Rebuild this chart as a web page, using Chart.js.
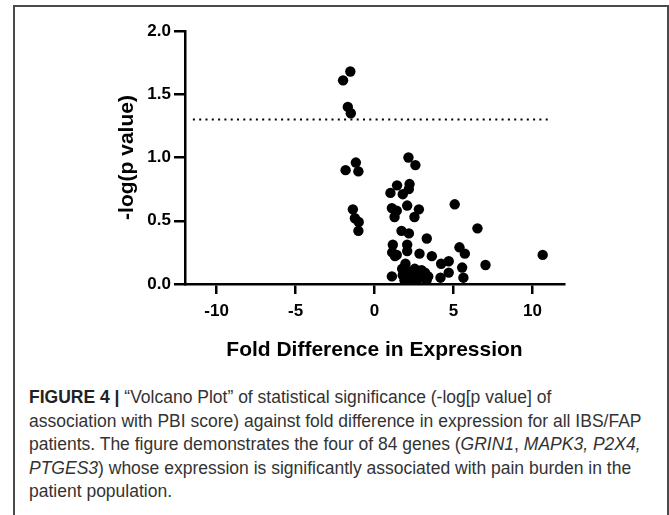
<!DOCTYPE html>
<html>
<head>
<meta charset="utf-8">
<script src="https://cdn.jsdelivr.net/npm/chart.js@4.4.1/dist/chart.umd.min.js"></script>
<style>
    html, body { margin: 0; padding: 0; background: #fff; }
    #figure {
        position: relative;
        width: 669px;
        height: 515px;
        overflow: hidden;
    }
    #frame {
        position: absolute;
        left: 13px; top: 5px;
        width: 656px; height: 520px;
        border: 2px solid #4a4a4a;
        box-sizing: border-box;
    }
    #chartBox {
        position: absolute;
        left: 0; top: 0;
        width: 669px; height: 370px;
    }
    #caption {
        position: absolute;
        left: 29px; top: 386px;
        width: 630px;
        font-family: "Liberation Sans", Arial, sans-serif;
        font-size: 17.5px;
        line-height: 23.5px;
        color: #333;
        white-space: nowrap;
    }
    #caption b { color: #222; }
</style>
</head>
<body>
<div id="figure">
    <div id="frame"></div>
    <div id="chartBox"><canvas id="volcano"></canvas></div>
    <div id="caption">
        <b>FIGURE 4 |</b> “Volcano Plot” of statistical significance (-log[p value] of<br>
        association with PBI score) against fold difference in expression for all IBS/FAP<br>
        patients. The figure demonstrates the four of 84 genes (<i>GRIN1</i>, <i>MAPK3, P2X4,</i><br>
        <i>PTGES3</i>) whose expression is significantly associated with pain burden in the<br>
        patient population.
    </div>
</div>

<script>
// fold difference (x) and -log(p) (y) for each gene
const foldDiff = [
    -1.99, -1.53, -1.69, -1.50, -1.83, -1.18, -1.02, -1.37, -1.24, -1.00, -1.02,
    2.15, 2.59, 1.43, 2.22, 2.17, 1.01, 1.79, 1.10, 1.41, 1.27, 2.07, 2.81, 2.53,
    5.08, 6.52, 1.71, 2.18, 3.31, 1.16, 2.07, 1.12, 1.41, 2.07, 2.85, 3.63,
    5.38, 5.72, 10.65, 7.03, 4.22, 4.70, 5.55, 4.70, 4.18, 5.63, 1.10, 1.96, 1.75,
    2.00, 2.32, 2.64, 2.98, 3.20, 3.40, 2.10, 2.43, 2.85, 3.10, 1.79, 2.20, 2.74, 3.00,
    1.30, 2.55, 1.90, 3.30, 2.45
];
const negLogP = [
    1.61, 1.68, 1.40, 1.35, 0.90, 0.96, 0.89, 0.59, 0.52, 0.49, 0.42,
    1.00, 0.94, 0.78, 0.79, 0.75, 0.72, 0.71, 0.60, 0.58, 0.53, 0.62, 0.59, 0.53,
    0.63, 0.44, 0.42, 0.40, 0.36, 0.31, 0.31, 0.25, 0.23, 0.26, 0.24, 0.22,
    0.29, 0.24, 0.23, 0.15, 0.16, 0.18, 0.13, 0.09, 0.05, 0.05, 0.06, 0.16, 0.12,
    0.09, 0.10, 0.08, 0.11, 0.09, 0.06, 0.01, 0.05, 0.07, 0.05, 0.07, 0.05, 0.04, 0.075,
    0.22, 0.12, 0.03, 0.03, 0.02
];

// significance threshold (p = 0.05) drawn as a dotted line
const thresholdY = 1.3;
const thresholdX = [-11.5, 11.0];

const xTicks = [-10, -5, 0, 5, 10];
const yTicks = [0, 0.5, 1.0, 1.5, 2.0];

const points = foldDiff.map((x, i) => ({ x: x, y: negLogP[i] }));
const thresholdLine = thresholdX.map(x => ({ x: x, y: thresholdY }));

const boldFont = (size) => ({ family: '"Liberation Sans", Arial, sans-serif', size: size, weight: 'bold', lineHeight: 1.2 });

new Chart(document.getElementById('volcano'), {
    type: 'scatter',
    data: {
        datasets: [
            {
                label: 'genes',
                data: points,
                backgroundColor: '#000',
                borderColor: '#000',
                pointRadius: 5.2,
                pointHoverRadius: 5.2,
                borderWidth: 0,
            },
            {
                type: 'line',
                label: 'threshold',
                data: thresholdLine,
                borderColor: '#000',
                borderWidth: 2,
                borderDash: [2, 4.3],
                pointRadius: 0,
                fill: false,
            }
        ]
    },
    options: {
        responsive: true,
        maintainAspectRatio: false,
        animation: false,
        layout: { padding: { left: 0, top: 31, right: 105, bottom: 0 } },
        plugins: { legend: { display: false }, tooltip: { enabled: false } },
        scales: {
            x: {
                type: 'linear',
                min: -12,
                max: 12,
                afterBuildTicks: (axis) => { axis.ticks = xTicks.map(v => ({ value: v })); },
                afterFit: (axis) => { axis.height = 86; },
                border: { color: '#000', width: 2.5 },
                grid: { drawOnChartArea: false, drawTicks: true, tickLength: 10, color: '#000', lineWidth: 2.5 },
                ticks: { color: '#000', font: boldFont(17), padding: 7, maxRotation: 0 },
                title: {
                    display: true,
                    text: 'Fold Difference in Expression',
                    color: '#000',
                    font: boldFont(21),
                    padding: { top: 0, bottom: 7 }
                }
            },
            y: {
                type: 'linear',
                min: 0,
                max: 2.0,
                afterBuildTicks: (axis) => { axis.ticks = yTicks.map(v => ({ value: v })); },
                afterFit: (axis) => { axis.width = 185; },
                border: { color: '#000', width: 2.5 },
                grid: { drawOnChartArea: false, drawTicks: true, tickLength: 11, color: '#000', lineWidth: 2.5 },
                ticks: { color: '#000', font: boldFont(17), padding: 3, callback: (v) => Number(v).toFixed(1) },
                title: {
                    display: true,
                    text: '-log(p value)',
                    color: '#000',
                    font: boldFont(21),
                    padding: { top: 115, bottom: 0 }
                }
            }
        }
    }
});
</script>
</body>
</html>
